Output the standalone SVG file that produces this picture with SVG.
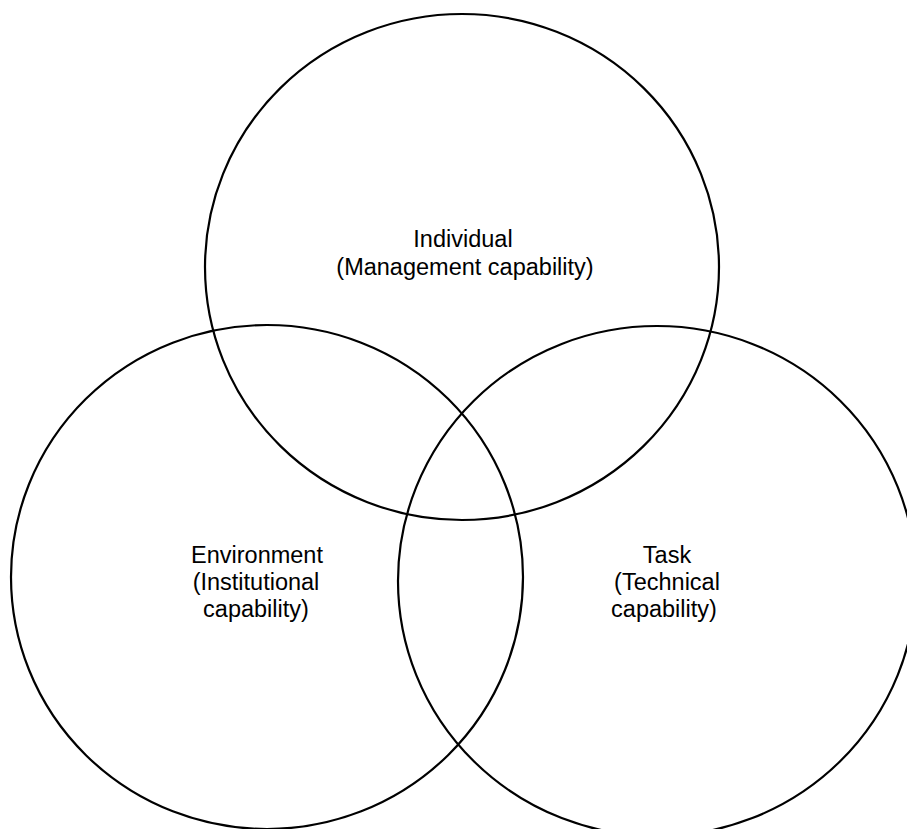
<svg xmlns="http://www.w3.org/2000/svg" width="907" height="829" viewBox="0 0 907 829">
<style>
.c{fill:none;stroke:#000;stroke-width:2.2}
.t{font-family:"Liberation Sans",Arial,sans-serif;font-size:23.5px;fill:#000;text-anchor:middle}
</style>
<rect width="907" height="829" fill="#fff"/>
<g id="individual">
<ellipse class="c" cx="462" cy="267" rx="257" ry="253"/>
<text class="t" x="463" y="247">Individual</text>
<text class="t" x="465" y="275">(Management capability)</text>
</g>
<g id="environment">
<ellipse class="c" cx="267" cy="577" rx="256" ry="252"/>
<text class="t" x="257" y="563">Environment</text>
<text class="t" x="256" y="590">(Institutional</text>
<text class="t" x="256" y="617">capability)</text>
</g>
<g id="task">
<ellipse class="c" cx="657" cy="581" rx="259" ry="255"/>
<text class="t" x="667" y="563">Task</text>
<text class="t" x="667" y="590">(Technical</text>
<text class="t" x="664" y="617">capability)</text>
</g>
<g id="connectors"></g>
</svg>
